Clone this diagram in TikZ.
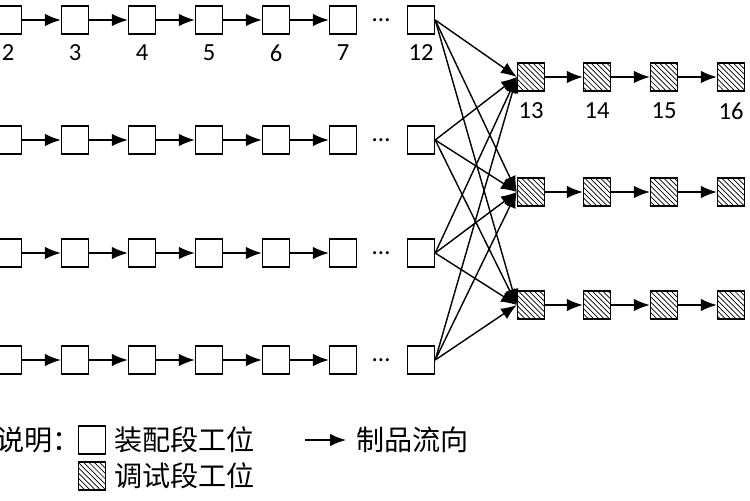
\documentclass[tikz,border=0pt]{standalone}
\usepackage{fontspec}
\setmainfont{Carlito}
\newfontfamily\cjk{Noto Sans CJK SC}
\usetikzlibrary{arrows.meta,patterns}
\tikzset{
  asm/.style={draw, thick, fill=white, minimum width=27*0.02cm, minimum height=28*0.02cm, inner sep=0pt},
  tst/.style={asm, pattern=north west lines},
  flow/.style={thick, -{Latex[length=9pt,width=7pt]}},
  lbl/.style={font=\fontsize{14}{16}\selectfont},
  txt/.style={font=\cjk\fontsize{16}{19}\selectfont, anchor=west}
}
\begin{document}
\begin{tikzpicture}[x=0.02cm,y=-0.02cm]
\useasboundingbox (0,0) rectangle (750,500);
% assembly lines
\foreach \r/\y in {1/20,2/140,3/253,4/360}{
  \foreach \i/\x in {2/8,3/75,4/142,5/209,6/276,7/343}
    \node[asm] (a\r-\i) at (\x,\y) {};
  \node[asm] (a\r-12) at (421,\y) {};
  \node (d\r) at (381,\y) {\Large\dots};
  \foreach \i/\j in {2/3,3/4,4/5,5/6,6/7}
    \draw[flow] (a\r-\i) -- (a\r-\j);
}
% station numbers
\foreach \i/\x in {2/8,3/75,4/142,5/209,6/276,7/343,12/421}
  \node[lbl] at (\x,53) {\i};
% test lines
\foreach \s/\y in {1/77,2/192,3/305}{
  \foreach \i/\x in {13/531,14/597,15/664,16/731}
    \node[tst] (t\s-\i) at (\x,\y) {};
  \foreach \i/\j in {13/14,14/15,15/16}
    \draw[flow] (t\s-\i) -- (t\s-\j);
}
\foreach \i/\x in {13/531,14/597,15/664,16/731}
  \node[lbl] at (\x,111) {\i};
% links
\foreach \r in {1,...,4}
  \foreach \s in {1,2,3}
    \draw[flow] (a\r-12.east) -- (t\s-13.west);
% legend
\node[txt] (key) at (-10,440) {说明：};
\node[asm] (ka) at (92,440) {};
\node[txt] at (108,440) {装配段工位};
\coordinate (f0) at (305,440);
\coordinate (f1) at (346,440);
\draw[flow] (f0) -- (f1);
\node[txt] at (350,440) {制品流向};
\node[tst] (kt) at (92,476) {};
\node[txt] at (108,476) {调试段工位};
\end{tikzpicture}
\end{document}
